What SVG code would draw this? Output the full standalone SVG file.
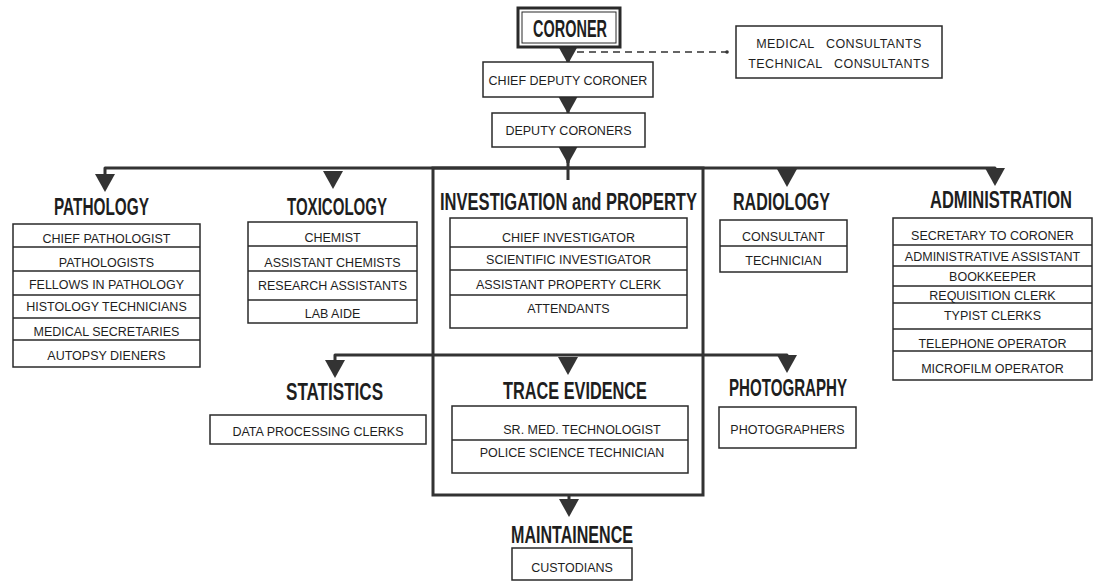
<svg xmlns="http://www.w3.org/2000/svg" xmlns:xlink="http://www.w3.org/1999/xlink" width="1094" height="583" viewBox="0 0 1094 583">
<style>
.bg{fill:#fff}
.box{fill:#fff;stroke:#2a2a2a;stroke-width:1.5}
.row{stroke:#2a2a2a;stroke-width:1.3}
.t{font-family:"Liberation Sans",Arial,sans-serif;font-size:12.5px;fill:#1e1e1e;text-anchor:middle}
.h{font-family:"Liberation Sans",Arial,sans-serif;font-weight:bold;font-size:23px;fill:#1e1e1e;text-anchor:middle}
.ln{fill:none;stroke:#333;stroke-width:3;stroke-linejoin:round}
.dash{fill:none;stroke:#333;stroke-width:1.5;stroke-dasharray:7 5}
.ar{fill:#333}
.frame{fill:none;stroke:#333;stroke-width:3}
</style>
<defs>
<path id="tri" d="M-10,0 L10,0 L0,18 Z"/>
</defs>
<rect class="bg" x="0" y="0" width="1094" height="583"/>

<g id="connectors">
<path class="ln" d="M105,175 V168 H995 V172"/>
<path class="ln" d="M568,160 V180"/>
<path class="ln" d="M568,44 V62 M568,95 V113 M568,145 V163"/>
<path class="ln" d="M335,362 V355 H787 V358"/>
<path class="ln" d="M569,495 V500"/>
<path class="dash" d="M577,52 H726"/>
<circle cx="727" cy="52" r="1.8" fill="#333"/>
<use xlink:href="#tri" href="#tri" class="ar" x="568" y="46"/>
<use xlink:href="#tri" href="#tri" class="ar" x="568" y="96"/>
<use xlink:href="#tri" href="#tri" class="ar" x="568" y="146"/>
<use xlink:href="#tri" href="#tri" class="ar" x="105" y="174"/>
<use xlink:href="#tri" href="#tri" class="ar" x="333" y="171"/>
<use xlink:href="#tri" href="#tri" class="ar" x="787" y="169"/>
<use xlink:href="#tri" href="#tri" class="ar" x="995" y="168"/>
<use xlink:href="#tri" href="#tri" class="ar" x="335" y="360"/>
<use xlink:href="#tri" href="#tri" class="ar" x="568" y="357"/>
<use xlink:href="#tri" href="#tri" class="ar" x="787" y="355"/>
<use xlink:href="#tri" href="#tri" class="ar" x="569" y="499"/>
</g>

<g id="coroner">
<rect x="518" y="8" width="102" height="39" fill="#fff" stroke="#2a2a2a" stroke-width="3"/>
<rect x="522" y="12" width="94" height="31" fill="none" stroke="#2a2a2a" stroke-width="1"/>
<text class="h" transform="translate(570,37) scale(0.6,1)" x="0" y="0" textLength="123.3" lengthAdjust="spacingAndGlyphs">CORONER</text>
</g>

<g id="consultants">
<rect class="box" x="736" y="26" width="206" height="52"/>
<text class="t" x="839" y="47.5" style="word-spacing:8px;letter-spacing:0.4px">MEDICAL CONSULTANTS</text>
<text class="t" x="839" y="67.5" style="word-spacing:8px;letter-spacing:0.4px">TECHNICAL CONSULTANTS</text>
</g>

<g id="chief-deputy">
<rect class="box" x="483" y="62" width="170" height="35"/>
<text class="t" x="568" y="84.5">CHIEF DEPUTY CORONER</text>
</g>

<g id="deputy">
<rect class="box" x="492" y="113" width="153" height="34"/>
<text class="t" x="568.5" y="134.5">DEPUTY CORONERS</text>
</g>

<g id="pathology">
<text class="h" transform="translate(101.5,215) scale(0.6,1)" x="0" y="0" textLength="158.3" lengthAdjust="spacingAndGlyphs">PATHOLOGY</text>
<rect class="box" x="13" y="224" width="187" height="143"/>
<path class="row" d="M13,247 H200 M13,271 H200 M13,295 H200 M13,318 H200 M13,340 H200"/>
<text class="t" x="106.5" y="242.5">CHIEF PATHOLOGIST</text>
<text class="t" x="106.5" y="266.5">PATHOLOGISTS</text>
<text class="t" x="106.5" y="288.5">FELLOWS IN PATHOLOGY</text>
<text class="t" x="106.5" y="310.5">HISTOLOGY TECHNICIANS</text>
<text class="t" x="106.5" y="335.5">MEDICAL SECRETARIES</text>
<text class="t" x="106.5" y="359.5">AUTOPSY DIENERS</text>
</g>

<g id="toxicology">
<text class="h" transform="translate(337,215) scale(0.6,1)" x="0" y="0" textLength="166.7" lengthAdjust="spacingAndGlyphs">TOXICOLOGY</text>
<rect class="box" x="248" y="222" width="169" height="101"/>
<path class="row" d="M248,246 H417 M248,271 H417 M248,300 H417"/>
<text class="t" x="332.5" y="241.5">CHEMIST</text>
<text class="t" x="332.5" y="266.5">ASSISTANT CHEMISTS</text>
<text class="t" x="332.5" y="289.5">RESEARCH ASSISTANTS</text>
<text class="t" x="332.5" y="317.5">LAB AIDE</text>
</g>

<g id="investigation">
<rect class="frame" x="433" y="168" width="270" height="327"/>
<text class="h" transform="translate(568.5,210) scale(0.6,1)" x="0" y="0" textLength="428.3" lengthAdjust="spacingAndGlyphs">INVESTIGATION and PROPERTY</text>
<rect class="box" x="450" y="218" width="237" height="110"/>
<path class="row" d="M450,247 H687 M450,270 H687 M450,295 H687"/>
<text class="t" x="568.5" y="241.5">CHIEF INVESTIGATOR</text>
<text class="t" x="568.5" y="263.5">SCIENTIFIC INVESTIGATOR</text>
<text class="t" x="568.5" y="288.5">ASSISTANT PROPERTY CLERK</text>
<text class="t" x="568.5" y="312.5">ATTENDANTS</text>
</g>

<g id="radiology">
<text class="h" transform="translate(781.5,210) scale(0.6,1)" x="0" y="0" textLength="161.7" lengthAdjust="spacingAndGlyphs">RADIOLOGY</text>
<rect class="box" x="720" y="220" width="127" height="52"/>
<path class="row" d="M720,246 H847"/>
<text class="t" x="783.5" y="240.5">CONSULTANT</text>
<text class="t" x="783.5" y="264.5">TECHNICIAN</text>
</g>

<g id="administration">
<text class="h" transform="translate(1001,208) scale(0.6,1)" x="0" y="0" textLength="236.7" lengthAdjust="spacingAndGlyphs">ADMINISTRATION</text>
<rect class="box" x="893" y="218" width="199" height="162"/>
<path class="row" d="M893,245 H1092 M893,266 H1092 M893,286 H1092 M893,303 H1092 M893,329 H1092 M893,351 H1092"/>
<text class="t" x="992.5" y="239.5">SECRETARY TO CORONER</text>
<text class="t" x="992.5" y="260.5">ADMINISTRATIVE ASSISTANT</text>
<text class="t" x="992.5" y="280.5">BOOKKEEPER</text>
<text class="t" x="992.5" y="299.5">REQUISITION CLERK</text>
<text class="t" x="992.5" y="319.5">TYPIST CLERKS</text>
<text class="t" x="992.5" y="347.5">TELEPHONE OPERATOR</text>
<text class="t" x="992.5" y="372.5">MICROFILM OPERATOR</text>
</g>

<g id="statistics">
<text class="h" transform="translate(334.5,400) scale(0.6,1)" x="0" y="0" textLength="161.7" lengthAdjust="spacingAndGlyphs">STATISTICS</text>
<rect class="box" x="210" y="415" width="216" height="29"/>
<text class="t" x="318" y="435.5">DATA PROCESSING CLERKS</text>
</g>

<g id="trace-evidence">
<text class="h" transform="translate(575,399) scale(0.6,1)" x="0" y="0" textLength="240" lengthAdjust="spacingAndGlyphs">TRACE EVIDENCE</text>
<rect class="box" x="452" y="406" width="236" height="67"/>
<path class="row" d="M452,440 H688"/>
<text class="t" x="582" y="433.5">SR. MED. TECHNOLOGIST</text>
<text class="t" x="572" y="456.5">POLICE SCIENCE TECHNICIAN</text>
</g>

<g id="photography">
<text class="h" transform="translate(788,396) scale(0.6,1)" x="0" y="0" textLength="196.7" lengthAdjust="spacingAndGlyphs">PHOTOGRAPHY</text>
<rect class="box" x="719" y="407" width="137" height="41"/>
<text class="t" x="787.5" y="433.5">PHOTOGRAPHERS</text>
</g>

<g id="maintainence">
<text class="h" transform="translate(572,543) scale(0.6,1)" x="0" y="0" textLength="203.3" lengthAdjust="spacingAndGlyphs">MAINTAINENCE</text>
<rect class="box" x="512" y="548" width="120" height="32"/>
<text class="t" x="572" y="571.5">CUSTODIANS</text>
</g>
</svg>
